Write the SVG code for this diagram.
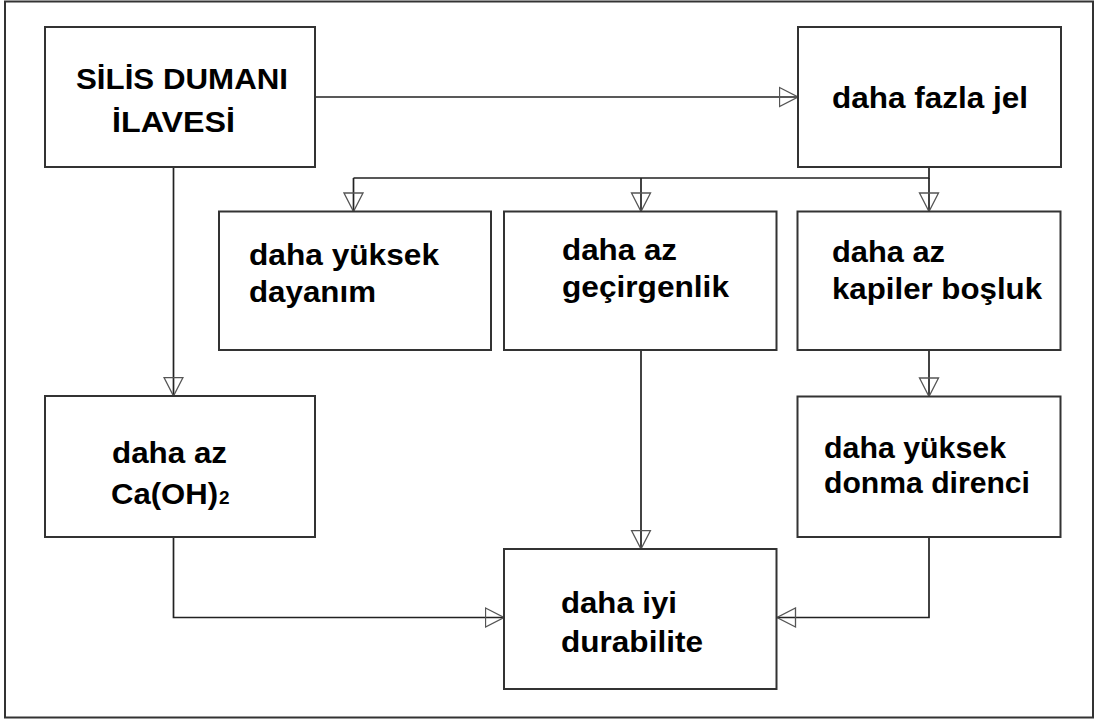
<svg xmlns="http://www.w3.org/2000/svg" width="1096" height="720" viewBox="0 0 1096 720">
<style>
.box{fill:#fff;stroke:#333;stroke-width:2}
.t{font-family:"Liberation Sans",Arial,sans-serif;font-weight:bold;font-size:29px;fill:#000}
.ln{fill:none;stroke:#222;stroke-width:1.7;marker-end:url(#ah)}
.pl{fill:none;stroke:#222;stroke-width:1.7}
</style>
<defs>
<marker id="ah" markerUnits="userSpaceOnUse" markerWidth="20" markerHeight="22" viewBox="0 0 19 22" refX="19" refY="11" orient="auto">
<path d="M0.5,1.5 L19,11 L0.5,20.5 Z" fill="none" stroke="#555" stroke-width="1.3"/>
</marker>
</defs>
<rect x="0" y="0" width="1096" height="720" fill="#fff"/>
<rect x="5" y="1.5" width="1088" height="716" fill="none" stroke="#333" stroke-width="2"/>
<g id="connectors">
<path class="ln" d="M315,97 H798"/>
<path class="ln" d="M173.5,167 V396"/>
<path class="pl" d="M929,167 V178 H353.5"/>
<path class="ln" d="M353.5,178 V211.5"/>
<path class="ln" d="M641,178 V211.5"/>
<path class="ln" d="M929,178 V211.5"/>
<path class="ln" d="M641,350 V549"/>
<path class="ln" d="M929,350 V396.5"/>
<path class="ln" d="M173.5,537 V617.5 H504"/>
<path class="ln" d="M929,537 V617.5 H777"/>
</g>
<g id="n1">
<rect class="box" x="45" y="27" width="270" height="140"/>
<text class="t" x="76" y="89" textLength="212" lengthAdjust="spacingAndGlyphs">SİLİS DUMANI</text>
<text class="t" x="112" y="132" textLength="123" lengthAdjust="spacingAndGlyphs">İLAVESİ</text>
</g>
<g id="n2">
<rect class="box" x="798" y="27" width="263" height="140"/>
<text class="t" x="832" y="108" textLength="196" lengthAdjust="spacingAndGlyphs">daha fazla jel</text>
</g>
<g id="n3">
<rect class="box" x="219" y="211.5" width="272" height="138.5"/>
<text class="t" x="249" y="265" textLength="190" lengthAdjust="spacingAndGlyphs">daha yüksek</text>
<text class="t" x="249" y="302" textLength="127" lengthAdjust="spacingAndGlyphs">dayanım</text>
</g>
<g id="n4">
<rect class="box" x="504" y="211.5" width="272.5" height="138.5"/>
<text class="t" x="562" y="260" textLength="115" lengthAdjust="spacingAndGlyphs">daha az</text>
<text class="t" x="562" y="297" textLength="167" lengthAdjust="spacingAndGlyphs">geçirgenlik</text>
</g>
<g id="n5">
<rect class="box" x="797.5" y="211.5" width="263" height="138.5"/>
<text class="t" x="832" y="262" textLength="113" lengthAdjust="spacingAndGlyphs">daha az</text>
<text class="t" x="832" y="299" textLength="210" lengthAdjust="spacingAndGlyphs">kapiler boşluk</text>
</g>
<g id="n6">
<rect class="box" x="45" y="396" width="270" height="141"/>
<text class="t" x="112" y="463" textLength="115" lengthAdjust="spacingAndGlyphs">daha az</text>
<text class="t" x="111" y="504"><tspan textLength="107" lengthAdjust="spacingAndGlyphs">Ca(OH)</tspan><tspan font-size="19" dx="1">2</tspan></text>
</g>
<g id="n7">
<rect class="box" x="797.5" y="396.5" width="263" height="140.5"/>
<text class="t" x="824" y="458" textLength="182" lengthAdjust="spacingAndGlyphs">daha yüksek</text>
<text class="t" x="824" y="493" textLength="206" lengthAdjust="spacingAndGlyphs">donma direnci</text>
</g>
<g id="n8">
<rect class="box" x="504" y="549" width="272.5" height="140"/>
<text class="t" x="561" y="613" textLength="116" lengthAdjust="spacingAndGlyphs">daha iyi</text>
<text class="t" x="561" y="652" textLength="142" lengthAdjust="spacingAndGlyphs">durabilite</text>
</g>
</svg>
